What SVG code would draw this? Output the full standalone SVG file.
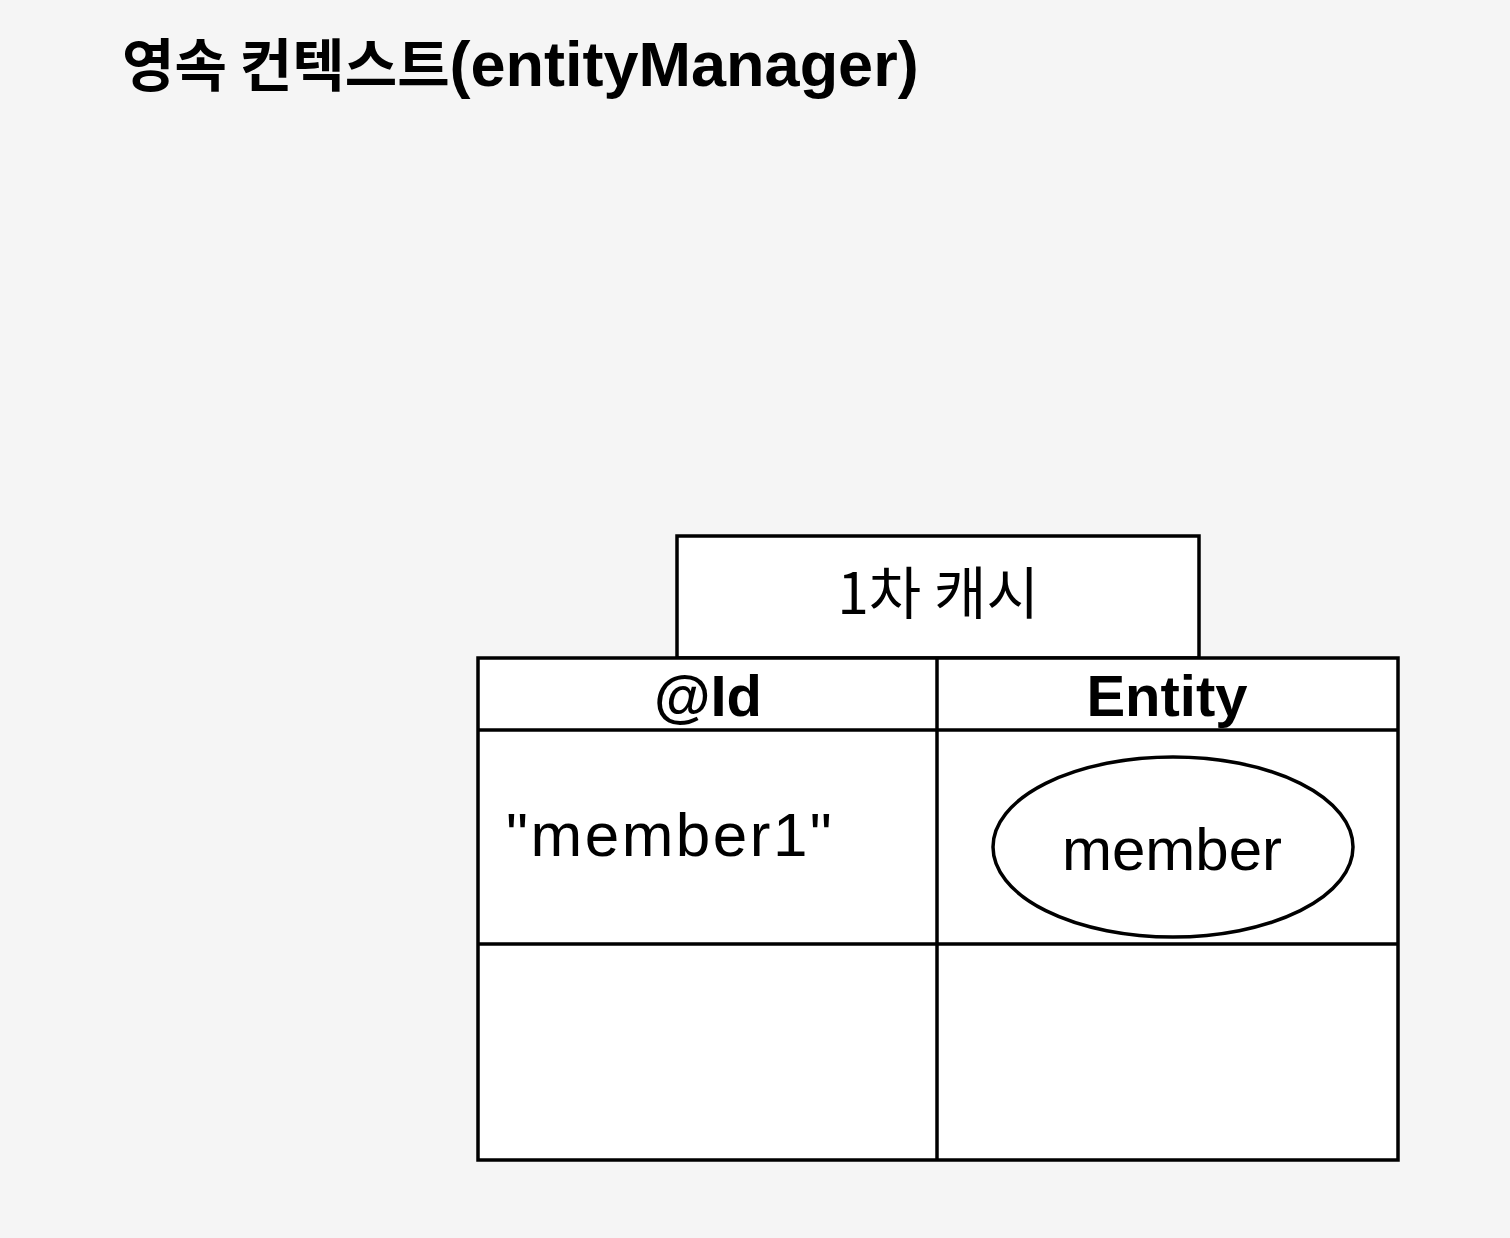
<svg xmlns="http://www.w3.org/2000/svg" width="1510" height="1238" viewBox="0 0 1510 1238">
<style>
.ln{fill:#ffffff;stroke:#000000;stroke-width:3.5}
.t{font-family:"Liberation Sans","Noto Sans CJK KR",sans-serif;fill:#000000}
.k{font-family:"Noto Sans CJK KR","Liberation Sans",sans-serif;fill:#000000}
</style>
<rect x="0" y="0" width="1510" height="1238" fill="#f5f5f5"/>
<g id="title">
<text class="t" x="122" y="86" font-weight="bold"><tspan class="k" font-size="57">영속 컨텍스트</tspan><tspan font-size="63">(entityManager)</tspan></text>
</g>
<g id="cache-label">
<rect class="ln" x="677" y="536" width="522" height="122"/>
<text class="k" x="938" y="614" font-size="57" text-anchor="middle">1차 캐시</text>
</g>
<g id="table">
<rect class="ln" x="478" y="658" width="920" height="502"/>
<line class="ln" x1="937" y1="658" x2="937" y2="1160"/>
<line class="ln" x1="478" y1="730" x2="1398" y2="730"/>
<line class="ln" x1="478" y1="944" x2="1398" y2="944"/>
<text class="t" x="708" y="716" font-size="58" font-weight="bold" text-anchor="middle">@Id</text>
<text class="t" x="1167" y="716" font-size="58" font-weight="bold" text-anchor="middle">Entity</text>
<text class="t" x="506" y="856" font-size="62" letter-spacing="2.5">"member1"</text>
</g>
<g id="member">
<ellipse class="ln" cx="1173" cy="847" rx="180" ry="90"/>
<text class="t" x="1172" y="870" font-size="60" text-anchor="middle">member</text>
</g>
<g id="connectors"></g>
</svg>
